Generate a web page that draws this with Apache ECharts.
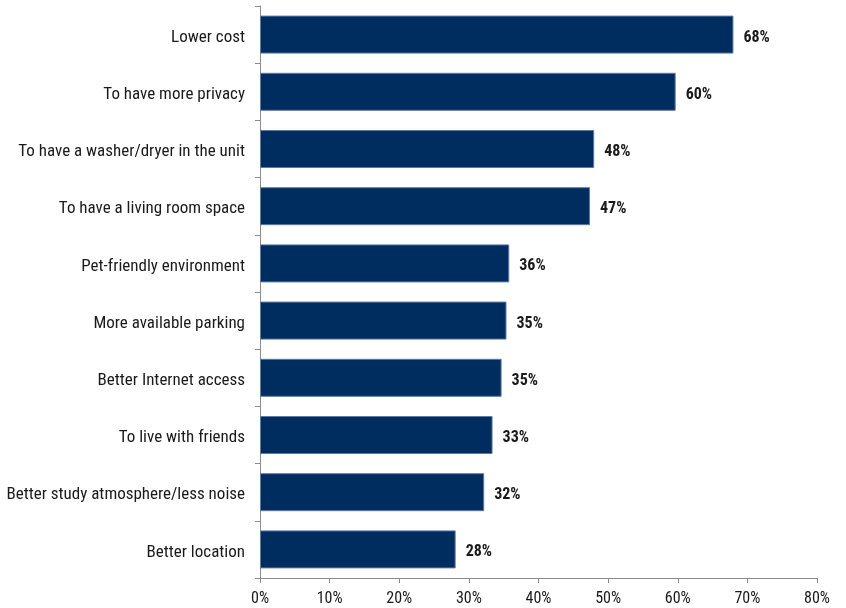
<!DOCTYPE html>
<html>
<head>
<meta charset="utf-8">
<style>
  html, body { margin: 0; padding: 0; background: #ffffff; }
  #chart { width: 846px; height: 608px; }
</style>
<script src="https://cdn.jsdelivr.net/npm/echarts@6/dist/echarts.min.js"></script>
</head>
<body>
<div id="chart"></div>
<script>
// Reasons for preferring the housing option, share of respondents (%)
const categories = [
  'Lower cost',
  'To have more privacy',
  'To have a washer/dryer in the unit',
  'To have a living room space',
  'Pet-friendly environment',
  'More available parking',
  'Better Internet access',
  'To live with friends',
  'Better study atmosphere/less noise',
  'Better location'
];
const shares = [68.0, 59.7, 48.0, 47.4, 35.8, 35.4, 34.7, 33.4, 32.2, 28.1];
const axisTicks = { min: 0, max: 80, interval: 10 };

const condensed = '"Roboto Condensed", "Liberation Sans", sans-serif';

const chart = echarts.init(document.getElementById('chart'), null, { renderer: 'canvas' });
chart.setOption({
  animation: false,
  backgroundColor: '#ffffff',
  grid: { left: 260, right: 29, top: 6, bottom: 30, containLabel: false, outerBoundsMode: 'none' },
  xAxis: {
    type: 'value',
    min: axisTicks.min,
    max: axisTicks.max,
    interval: axisTicks.interval,
    axisLine: { show: true, lineStyle: { color: '#8c8c8c', width: 1 } },
    axisTick: { show: true, length: 5, lineStyle: { color: '#8c8c8c' } },
    splitLine: { show: false },
    axisLabel: {
      formatter: v => v + '%',
      fontFamily: condensed,
      fontSize: 16,
      color: '#1a1a1a',
      margin: 13
    }
  },
  yAxis: {
    type: 'category',
    data: categories,
    inverse: true,
    axisLine: { show: true, lineStyle: { color: '#8c8c8c', width: 1 } },
    axisTick: { show: true, length: 5, lineStyle: { color: '#8c8c8c' } },
    axisLabel: {
      margin: 15,
      formatter: v => '{c|' + v + '}',
      rich: {
        c: {
          fontFamily: condensed,
          fontSize: 17,
          color: '#1a1a1a',
          padding: [6, 0, 0, 0]
        }
      }
    }
  },
  series: [{
    type: 'bar',
    data: shares,
    barWidth: 38,
    itemStyle: { color: '#002d5f', borderColor: '#5d7aa3', borderWidth: 1 },
    label: {
      show: true,
      position: 'right',
      distance: 10,
      offset: [0, 3],
      formatter: p => Math.round(p.value) + '%',
      fontFamily: condensed,
      fontSize: 16,
      fontWeight: 'bold',
      color: '#1a1a1a'
    }
  }]
});
</script>
</body>
</html>
